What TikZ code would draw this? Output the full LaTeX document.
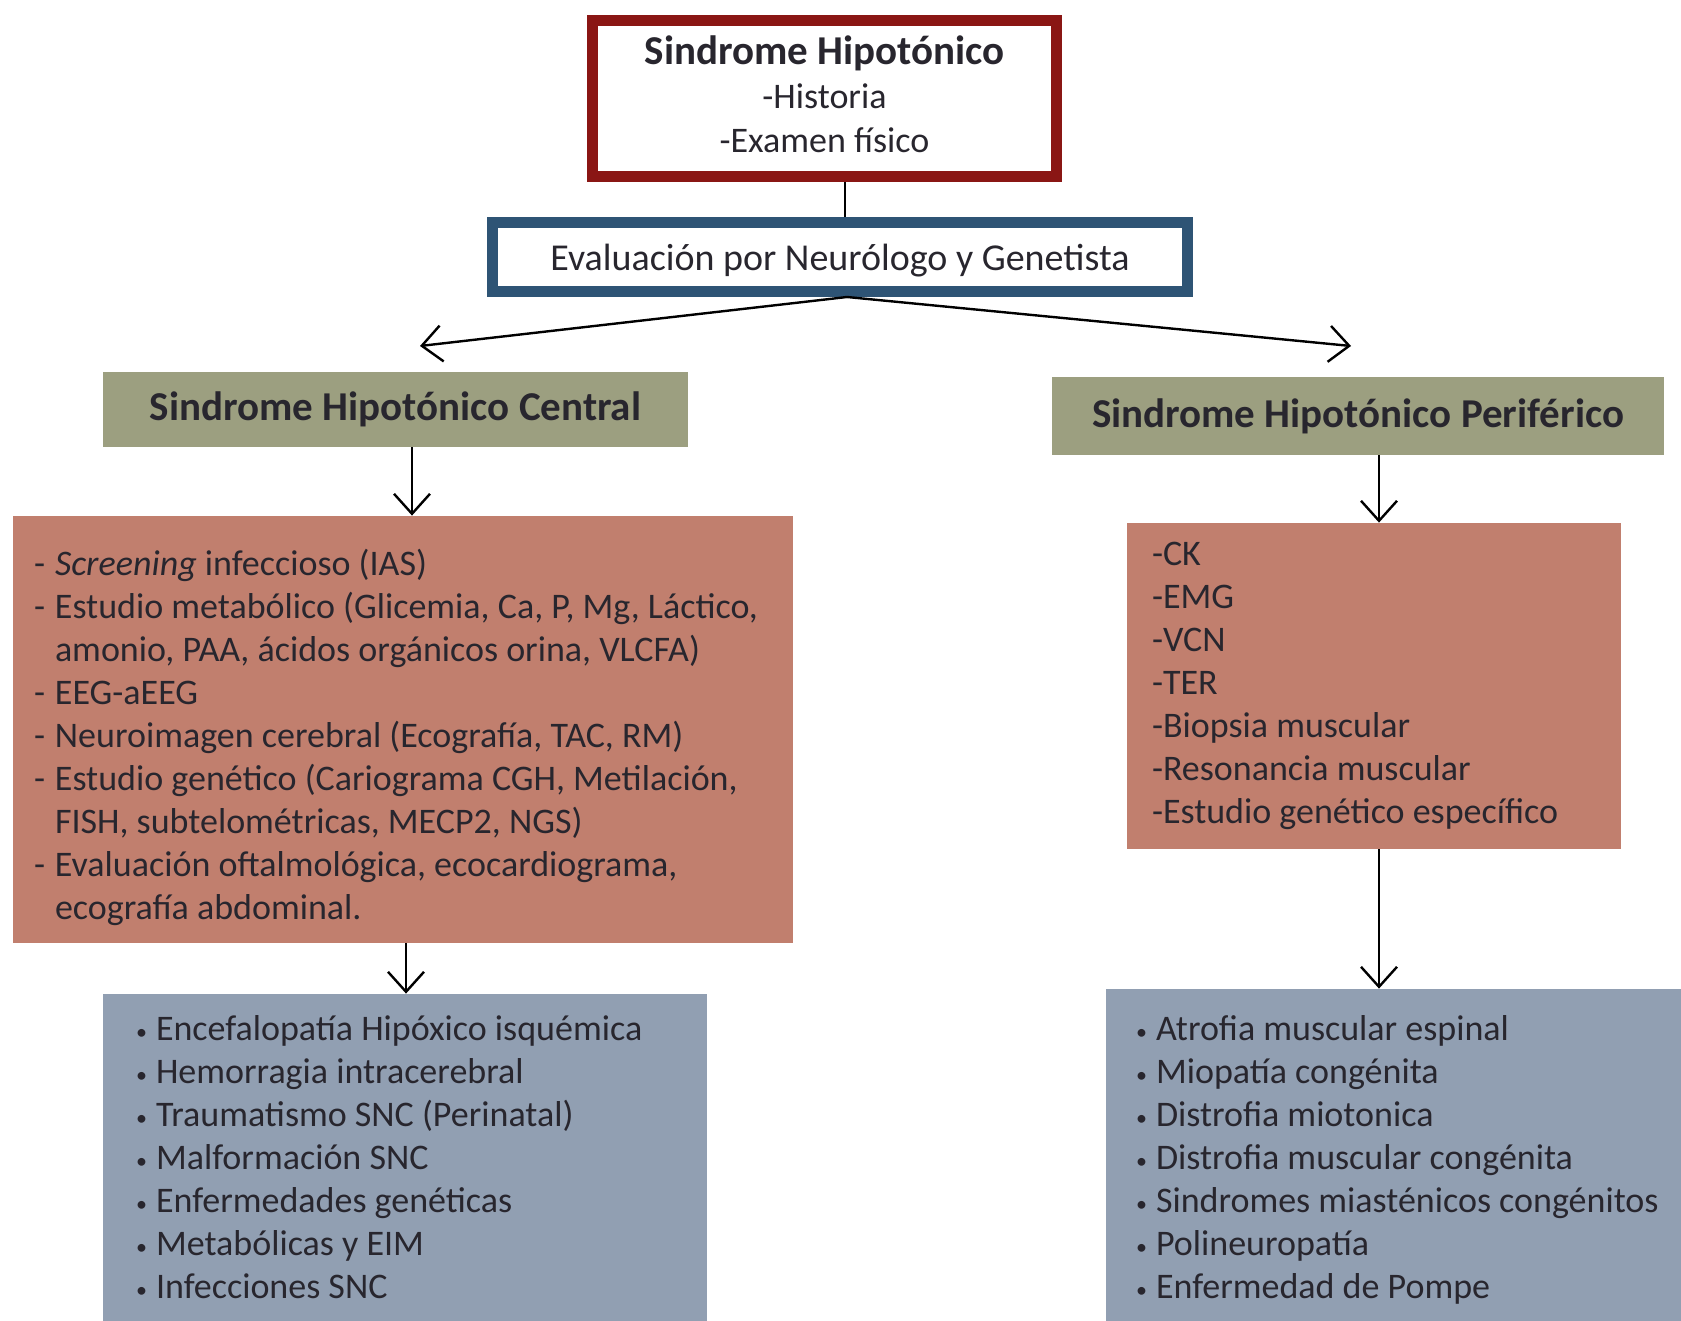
\documentclass[tikz,border=0pt]{standalone}
\usepackage{fontspec}
\setmainfont{Carlito}
\usetikzlibrary{arrows.meta}

\definecolor{bordeRojo}{RGB}{138,22,20}
\definecolor{bordeAzul}{RGB}{46,84,117}
\definecolor{verdeCaja}{RGB}{156,159,128}
\definecolor{rojoCaja}{RGB}{193,127,110}
\definecolor{azulCaja}{RGB}{145,159,178}
\definecolor{texto}{RGB}{40,38,46}

\newcommand{\guion}{\par\hangindent=10.5pt\hangafter=1\noindent\makebox[10.5pt][l]{-}}
\newcommand{\punto}{\par\noindent\makebox[10pt][l]{\raisebox{0.5pt}{\fontsize{11}{11}\selectfont\textbullet}}}

\begin{document}
\begin{tikzpicture}[x=0.5pt, y=-0.5pt,
    every node/.style={text=texto, font=\fontsize{18}{21.5}\selectfont},
    caja/.style={rectangle, inner sep=0pt},
    lista/.style={caja, align=flush left},
    titulo/.style={font=\fontsize{20.5}{22}\selectfont\bfseries},
    conector/.style={line width=1.2pt, draw=black},
    flecha/.style={conector, -{Straight Barb[length=10pt, width=18pt]}}]
    \useasboundingbox (0,0) rectangle (1681,1321);
    \clip (0,0) rectangle (1681,1321);

    % ---- Cajas superiores ----
    \node[caja, draw=bordeRojo, line width=5.5pt, minimum width=232pt, minimum height=78pt,
        align=center, font=\fontsize{18}{22}\selectfont] (sh) at (824.5, 98.5)
        {{\fontsize{20.5}{22}\selectfont\bfseries Sindrome Hipotónico}\\-Historia\\-Examen físico\rule[-4pt]{0pt}{4pt}};
    \node[caja, draw=bordeAzul, line width=5.5pt, minimum width=347.5pt, minimum height=34.5pt,
        text depth=0pt, font=\fontsize{19}{22}\selectfont] (ev)
        at (840, 257) {Evaluación por Neurólogo y Genetista};

    % ---- Sindrome central (izquierda) ----
    \node[caja, fill=verdeCaja, titulo, minimum width=292.5pt, minimum height=37.5pt] (cen)
        at (395.5, 409.5) {Sindrome Hipotónico Central};
    \node[lista, fill=rojoCaja, minimum width=390pt, minimum height=213.5pt, text width=369pt] (labC)
        at (403, 729.5) {%
        \guion\textit{Screening} infeccioso (IAS)
        \guion Estudio metabólico (Glicemia, Ca, P, Mg, Láctico,\newline amonio, PAA, ácidos orgánicos orina, VLCFA)
        \guion EEG-aEEG
        \guion Neuroimagen cerebral (Ecografía, TAC, RM)
        \guion Estudio genético (Cariograma CGH, Metilación,\newline FISH, subtelométricas, MECP2, NGS)
        \guion Evaluación oftalmológica, ecocardiograma,\newline ecografía abdominal.\par};
    \node[lista, fill=azulCaja, minimum width=302pt, minimum height=173pt, text width=269pt] (diagC)
        at (405, 1167) {%
        \punto Encefalopatía Hipóxico isquémica
        \punto Hemorragia intracerebral
        \punto Traumatismo SNC (Perinatal)
        \punto Malformación SNC
        \punto Enfermedades genéticas
        \punto Metabólicas y EIM
        \punto Infecciones SNC\par\vspace{19pt}};

    % ---- Sindrome periférico (derecha) ----
    \node[caja, fill=verdeCaja, titulo, minimum width=306pt, minimum height=39pt] (per)
        at (1358, 416) {Sindrome Hipotónico Periférico};
    \node[lista, fill=rojoCaja, minimum width=247pt, minimum height=163pt, text width=222pt] (labP)
        at (1374, 686) {-CK\\-EMG\\-VCN\\-TER\\-Biopsia muscular\\-Resonancia muscular\\-Estudio genético específico};
    \node[lista, fill=azulCaja, minimum width=310pt, minimum height=175.5pt, text width=280pt] (diagP)
        at (1416, 1164.5) {%
        \punto Atrofia muscular espinal
        \punto Miopatía congénita
        \punto Distrofia miotonica
        \punto Distrofia muscular congénita
        \punto Sindromes miasténicos congénitos
        \punto Polineuropatía
        \punto Enfermedad de Pompe\par\vspace{14pt}};

    % ---- Conectores ----
    \coordinate (ejeSup) at (845, 0);
    \coordinate (ejeEv) at (847, 0);
    \coordinate (puntaC) at (420, 346);
    \coordinate (puntaP) at (1351, 346);
    \coordinate (ejeC1) at (412, 0);
    \coordinate (ejeC2) at (406, 0);
    \coordinate (ejeP) at (1379, 0);
    \draw[conector] (sh.south -| ejeSup) -- (ev.north -| ejeSup);
    \draw[flecha] (ev.south -| ejeEv) -- (puntaC);
    \draw[flecha] (ev.south -| ejeEv) -- (puntaP);
    \draw[flecha] (cen.south -| ejeC1) -- (labC.north -| ejeC1);
    \draw[flecha] (labC.south -| ejeC2) -- (diagC.north -| ejeC2);
    \draw[flecha] (per.south -| ejeP) -- (labP.north -| ejeP);
    \draw[flecha] (labP.south -| ejeP) -- (diagP.north -| ejeP);
\end{tikzpicture}
\end{document}
